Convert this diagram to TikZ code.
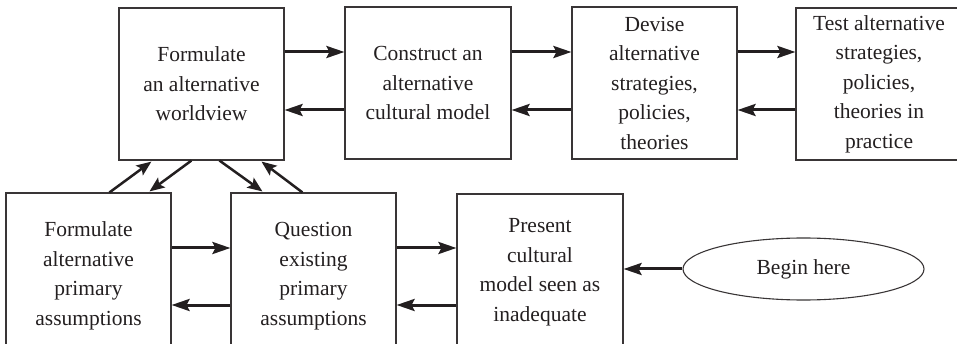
\documentclass[tikz,border=0pt]{standalone}
\usepackage{fontspec}
\setmainfont{Liberation Serif}
\usetikzlibrary{calc,arrows.meta,shapes.geometric}
\definecolor{ink}{HTML}{231F20}
\tikzset{
  box/.style={draw=ink!90, line width=1.1pt, text=ink, align=center, inner sep=0pt,
    minimum width=165pt, font=\fontsize{21.5}{29.5}\selectfont},
  arr/.style={draw=ink, line width=3pt, -{Stealth[length=18pt,width=12pt,inset=3pt]}},
  darr/.style={draw=ink, line width=2.5pt, -{Stealth[length=15pt,width=12pt,inset=3pt]}},
}
\begin{document}
\begin{tikzpicture}[x=1pt,y=-1pt]
\useasboundingbox (0,0) rectangle (957,344);
\clip (0,0) rectangle (957,344);
% top row
\node[box, minimum height=152pt] (A) at (201.5,84) {Formulate\\an alternative\\worldview};
\node[box, minimum height=152pt, minimum width=166pt] (B) at (428,83) {Construct an\\alternative\\cultural model};
\node[box, minimum height=152pt] (C) at (654.5,83) {Devise\\alternative\\strategies,\\policies,\\theories};
\node[box, minimum height=152pt, minimum width=166pt] (D) at (879,84) {Test alternative\\strategies,\\policies,\\theories in\\practice};
% bottom row
\node[box, minimum height=166pt] (E) at (88.5,276) {Formulate\\alternative\\primary\\assumptions};
\node[box, minimum height=166pt] (F) at (313.5,276) {Question\\existing\\primary\\assumptions};
\node[box, minimum height=156pt, minimum width=166pt] (G) at (540,272) {Present\\cultural\\model seen as\\inadequate};
\node[draw=ink!90, line width=1.1pt, ellipse, minimum width=241pt, minimum height=62pt, inner sep=0pt,
  text=ink, font=\fontsize{21.5}{29.5}\selectfont] (S) at (803.5,269) {Begin here};
% level coordinates
\coordinate (ta) at (0,52);
\coordinate (tb) at (0,110);
\coordinate (ba) at (0,248);
\coordinate (bb) at (0,305);
% top arrows
\draw[arr] (A.east |- ta) -- (B.west |- ta);
\draw[arr] (B.west |- tb) -- (A.east |- tb);
\draw[arr] (B.east |- ta) -- (C.west |- ta);
\draw[arr] (C.west |- tb) -- (B.east |- tb);
\draw[arr] (C.east |- ta) -- (D.west |- ta);
\draw[arr] (D.west |- tb) -- (C.east |- tb);
% bottom arrows
\draw[arr] (E.east |- ba) -- (F.west |- ba);
\draw[arr] (F.west |- bb) -- (E.east |- bb);
\draw[arr] (F.east |- ba) -- (G.west |- ba);
\draw[arr] (G.west |- bb) -- (F.east |- bb);
\draw[arr] (S.west) -- (G.east |- S.west);
% diagonals
\draw[darr] ($(E.north west)+(104,0)$) -- ($(A.south west)+(33,1)$);
\draw[darr] ($(A.south west)+(73,0)$) -- ($(E.north west)+(144,-1)$);
\draw[darr] ($(A.south west)+(101,0)$) -- ($(F.north west)+(32,-1)$);
\draw[darr] ($(F.north west)+(72,0)$) -- ($(A.south west)+(143,1)$);
\end{tikzpicture}
\end{document}
